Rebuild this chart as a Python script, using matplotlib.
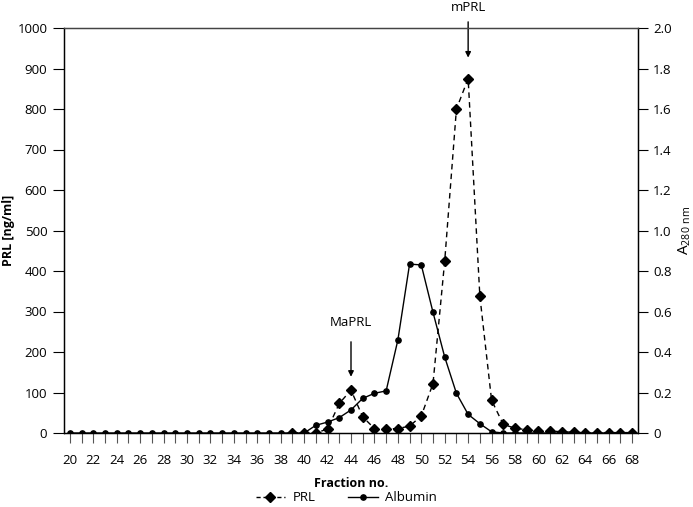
import matplotlib
matplotlib.use("Agg")
import matplotlib.pyplot as plt
from matplotlib.lines import Line2D

plt.rcParams['font.family'] = ['Open Sans', 'DejaVu Sans']

# Data
albumin_fractions = list(range(20, 69))
albumin_values = ([0.0] * 21 +  # 20-40
                  [0.038, 0.054, 0.076, 0.114, 0.171, 0.196, 0.208, 0.459, 0.834, 0.830,
                   0.596, 0.375, 0.196, 0.092, 0.046, 0.006] +  # 41-56
                  [0.0] * 12)  # 57-68

prl_fractions = list(range(39, 69))
prl_values = [0, 0, 0, 10, 73, 106, 40, 11, 10, 11, 17, 42, 122, 425, 800, 875, 338, 81,
              21, 12, 8, 6, 5, 3, 2, 1, 1, 1, 1, 1]

x_ticks_all = list(range(20, 69))
y_left_ticks = list(range(0, 1001, 100))
y_right_ticks = [0, 0.2, 0.4, 0.6, 0.8, 1.0, 1.2, 1.4, 1.6, 1.8, 2.0]
y_right_labels = ['0', '0.2', '0.4', '0.6', '0.8', '1.0', '1.2', '1.4', '1.6', '1.8', '2.0']

fig = plt.figure(figsize=(6.93, 5.07), dpi=100)
ax = fig.add_axes([64/693, 1-433/507, (638-64)/693, (433-28)/507])
ax2 = ax.twinx()

ax.plot(prl_fractions, prl_values, linestyle=(0, (4, 3)), color='black', lw=1.0,
        marker='D', markersize=5.5, zorder=3)
ax2.plot(albumin_fractions, albumin_values, linestyle='-', color='black', lw=1.0,
         marker='o', markersize=3.8, zorder=2)

ax.set_xlim(19.5, 68.5)
ax.set_ylim(0, 1000)
ax2.set_ylim(0, 2.0)

ax.set_xticks(x_ticks_all)
ax.set_xticklabels([str(v) if v % 2 == 0 else '' for v in x_ticks_all], fontsize=9.5)
ax.set_yticks(y_left_ticks)
ax.set_yticklabels([str(v) for v in y_left_ticks], fontsize=9.5)
ax2.set_yticks(y_right_ticks)
ax2.set_yticklabels(y_right_labels, fontsize=9.5)

ax.tick_params(axis='x', direction='out', length=7, width=0.8, color='#555555', pad=8)
ax.tick_params(axis='y', direction='out', length=8, width=0.8, pad=4)
ax2.tick_params(axis='y', direction='out', length=7, width=0.8, pad=4)

for a in (ax, ax2):
    for s in a.spines.values():
        s.set_linewidth(0.9)
    a.spines['top'].set_color('#444444')

ax.set_xlabel('Fraction no.', fontsize=9, fontweight='bold', labelpad=7)
ax.set_ylabel('PRL [ng/ml]', fontsize=9, fontweight='bold', labelpad=2)
ax2.set_ylabel(r'A$_{\mathregular{280\ nm}}$', fontsize=11, labelpad=3)

ax.annotate('', xy=(54, 920), xytext=(54, 1022),
            arrowprops=dict(arrowstyle='-|>', color='black', lw=1.0, mutation_scale=8),
            annotation_clip=False)
ax.text(54, 1050, 'mPRL', ha='center', va='center', fontsize=9.5, clip_on=False)
ax.annotate('', xy=(44, 132), xytext=(44, 232),
            arrowprops=dict(arrowstyle='-|>', color='black', lw=1.0, mutation_scale=8))
ax.text(44, 272, 'MaPRL', ha='center', va='center', fontsize=9.5)

handles = [Line2D([0], [0], linestyle=(0, (3, 2)), color='black', lw=1.0, marker='D', markersize=5),
           Line2D([0], [0], linestyle='-', color='black', lw=1.0, marker='o', markersize=3.8)]
fig.legend(handles, ['PRL', 'Albumin'], loc='lower center', bbox_to_anchor=(0.5, -0.018),
           ncol=2, frameon=False, fontsize=9.5, handlelength=2.2, columnspacing=2.5,
           handletextpad=0.6)

fig.savefig('out.png', dpi=100)
